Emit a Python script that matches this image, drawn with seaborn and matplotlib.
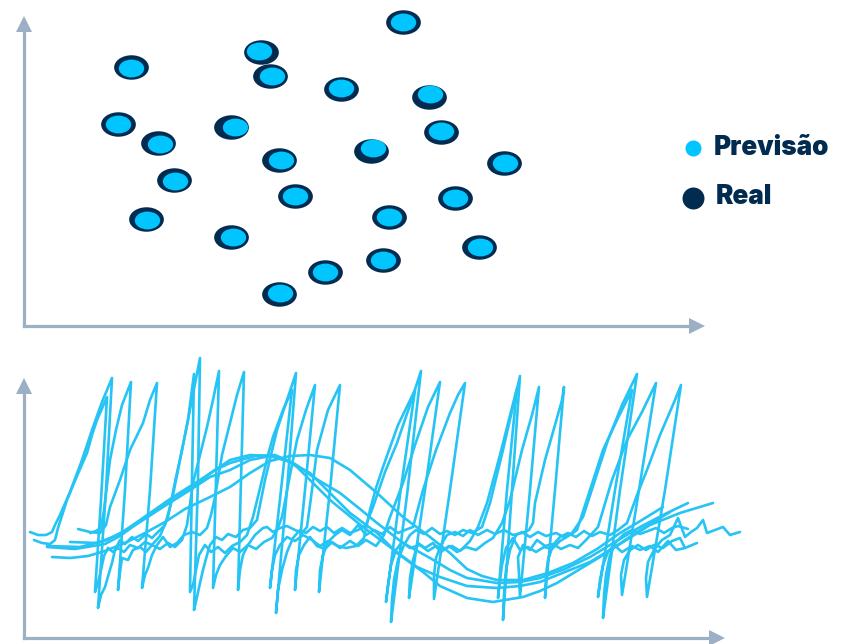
#!/usr/bin/env python3
"""
Forecast vs actual sketch: scatter on top, many overlapping forecasts below
"""

import matplotlib
matplotlib.use("Agg")
import matplotlib.pyplot as plt
from matplotlib.markers import MarkerStyle
from matplotlib.transforms import Affine2D
import numpy as np
import seaborn as sns

# Scatter values
real_x = [131, 261, 270, 118, 158, 174, 231, 279, 403, 341, 429, 441, 504, 371, 295, 455, 389, 146, 231, 479, 383, 325, 279]
real_y = [67, 52, 76, 124, 143, 180, 127, 160, 22, 89, 97, 132, 163, 151, 196, 198, 217, 219, 237, 247, 260, 272, 294]
pred_x = [131, 259, 272, 118, 160, 175, 235, 281, 403, 341, 430, 441, 505, 373, 295, 455, 389, 147, 233, 480, 383, 325, 280]
pred_y = [68, 51, 76, 124, 144, 181, 127, 160, 22, 88, 94, 131, 163, 148, 196, 198, 217, 220, 237, 247, 260, 272, 293]

# Smooth forecasts
smooth_a = [(52, 557), (70, 558), (88, 556), (105, 551), (125, 543), (145, 533), (165, 522), (185, 509), (210, 497),
            (230, 487), (250, 473), (270, 461), (290, 456), (310, 455), (330, 458), (350, 470), (377, 493), (403, 517),
            (430, 537), (450, 553), (467, 569), (482, 576), (497, 580), (523, 580), (548, 573), (573, 563), (597, 549),
            (620, 533), (642, 520), (663, 507)]
smooth_b = [(70, 542), (97, 543), (123, 533), (143, 520), (163, 507), (187, 492), (210, 477), (230, 470), (250, 460),
            (270, 456), (285, 459), (297, 467), (313, 483), (330, 500), (363, 527), (390, 547), (417, 567), (440, 577),
            (467, 586), (497, 588), (520, 586), (540, 582), (565, 572), (590, 562), (620, 544), (650, 525), (680, 513),
            (713, 503)]
smooth_c = [(47, 547), (75, 549), (105, 544), (120, 536), (135, 525), (150, 515), (165, 505), (195, 485), (215, 470),
            (230, 460), (250, 455), (270, 456), (290, 462), (310, 473), (330, 493), (350, 513), (377, 533), (397, 553),
            (423, 572), (440, 586), (467, 598), (493, 602), (523, 597), (540, 591), (557, 583), (600, 557), (640, 530),
            (670, 512)]
smooth_d = [(47, 546), (80, 547), (107, 540), (124, 531), (140, 520), (173, 497), (200, 480), (215, 470), (230, 463),
            (255, 456), (275, 455), (295, 464), (313, 477), (340, 493), (360, 509), (377, 523), (403, 543), (430, 558),
            (450, 570), (467, 578), (497, 583), (520, 582), (540, 578), (565, 569), (590, 557), (615, 542), (640, 527),
            (665, 514), (688, 503)]

# Sawtooth forecasts (x doubles back on each drop)
saw_a = [(34, 540), (42, 543), (50, 544), (55, 540), (58, 528), (67, 500), (77, 476), (87, 453), (92, 435), (97, 420),
         (107, 397), (101, 500), (95, 592), (98, 583), (101, 570), (104, 556), (108, 548), (113, 552), (118, 548),
         (124, 552), (130, 545), (138, 548), (145, 542), (152, 545), (160, 536), (168, 517), (175, 482), (182, 450),
         (188, 420), (194, 374), (192, 480), (190, 592), (193, 585), (196, 570), (199, 555), (205, 545), (211, 552),
         (218, 547), (225, 553), (232, 546), (240, 542), (247, 535), (253, 517), (262, 480), (268, 455), (273, 437),
         (283, 410), (292, 390), (281, 490), (270, 588), (272, 570), (275, 555), (280, 545), (287, 537), (295, 541),
         (303, 535), (312, 540), (320, 546), (328, 541), (338, 546), (346, 548), (356, 546), (364, 538), (370, 510),
         (376, 488), (383, 467), (398, 425), (415, 390), (400, 495), (386, 602), (388, 585), (391, 565), (396, 550),
         (402, 542), (410, 548), (420, 545), (428, 551), (436, 546), (444, 549), (452, 546), (460, 551), (470, 541),
         (478, 527), (487, 503), (500, 455), (517, 388), (507, 490), (498, 598), (500, 580), (502, 565), (506, 548),
         (513, 538), (520, 550), (528, 547), (536, 552), (544, 547), (552, 549), (560, 541), (570, 535), (577, 530),
         (590, 490), (603, 450), (618, 418), (632, 390), (615, 490), (598, 597), (600, 580), (603, 565), (608, 552),
         (614, 545), (622, 552), (632, 546), (640, 550), (650, 546), (658, 552), (668, 541), (676, 550), (685, 548)]
saw_b = [(30, 532), (38, 535), (46, 535), (52, 532), (55, 525), (60, 515), (70, 492), (82, 460), (92, 430), (102, 402),
         (112, 378), (106, 490), (98, 608), (101, 595), (105, 587), (109, 573), (112, 563), (115, 550), (120, 540),
         (125, 544), (132, 537), (138, 541), (146, 534), (152, 538), (158, 532), (165, 525), (172, 500), (178, 470),
         (187, 425), (200, 358), (198, 480), (194, 610), (197, 597), (200, 583), (203, 570), (207, 555), (210, 545),
         (216, 537), (222, 540), (228, 534), (236, 537), (243, 530), (250, 528), (257, 520), (265, 480), (277, 430),
         (287, 400), (296, 373), (287, 490), (276, 613), (278, 590), (282, 570), (287, 552), (293, 538), (300, 530),
         (306, 533), (313, 527), (320, 531), (327, 527), (334, 533), (342, 528), (350, 533), (358, 530), (366, 525),
         (373, 507), (385, 472), (397, 443), (410, 405), (421, 371), (407, 495), (391, 622), (392, 600), (394, 580),
         (398, 560), (404, 545), (410, 535), (416, 530), (424, 534), (432, 528), (440, 534), (447, 531), (455, 535),
         (463, 530), (472, 533), (482, 527), (490, 503), (503, 450), (520, 376), (512, 490), (503, 620), (504, 595),
         (506, 570), (510, 550), (516, 535), (522, 532), (530, 537), (538, 532), (546, 536), (556, 533), (564, 537),
         (572, 533), (583, 517), (595, 480), (608, 440), (622, 405), (637, 374), (620, 490), (603, 618), (604, 595),
         (606, 575), (610, 555), (616, 542), (624, 534), (632, 530), (640, 534), (648, 531), (656, 528), (664, 533),
         (672, 528), (678, 526), (688, 529)]
saw_c = [(90, 533), (96, 531), (101, 528), (104, 510), (110, 460), (116, 430), (122, 405), (131, 382), (125, 490),
         (118, 590), (120, 572), (122, 558), (128, 560), (133, 550), (140, 547), (146, 552), (152, 545), (160, 549),
         (168, 543), (175, 547), (182, 540), (187, 525), (193, 483), (200, 455), (207, 427), (213, 400), (219, 371),
         (216, 480), (213, 588), (216, 575), (220, 565), (226, 556), (233, 548), (240, 552), (248, 545), (256, 549),
         (264, 542), (272, 538), (277, 530), (282, 517), (290, 475), (297, 440), (306, 410), (315, 385), (305, 490),
         (295, 590), (296, 570), (299, 555), (304, 545), (310, 537), (317, 546), (325, 549), (332, 542), (340, 548),
         (350, 541), (358, 546), (366, 540), (376, 546), (384, 535), (390, 517), (403, 483), (415, 445), (428, 407),
         (440, 382), (425, 490), (409, 598), (410, 578), (413, 560), (418, 543), (425, 548), (433, 543), (441, 552),
         (449, 546), (457, 552), (466, 547), (476, 550), (485, 543), (493, 538), (502, 523), (510, 500), (522, 450),
         (532, 415), (539, 387), (530, 490), (520, 597), (519, 575), (518, 557), (523, 545), (530, 550), (537, 540),
         (545, 546), (553, 544), (561, 549), (570, 545), (578, 548), (586, 540), (598, 527), (612, 480), (627, 440),
         (642, 412), (656, 383), (639, 490), (622, 595), (621, 575), (624, 560), (630, 550), (638, 545), (646, 550),
         (654, 545), (663, 548), (672, 541), (680, 538), (685, 548), (697, 543)]
saw_d = [(78, 529), (90, 532), (100, 533), (106, 525), (110, 507), (120, 480), (130, 450), (143, 423), (150, 400),
         (157, 383), (150, 490), (142, 588), (145, 575), (148, 568), (152, 555), (157, 545), (163, 537), (170, 547),
         (177, 543), (184, 535), (192, 532), (200, 535), (207, 528), (211, 515), (215, 497), (222, 455), (230, 423),
         (237, 395), (244, 372), (241, 480), (238, 590), (240, 570), (243, 555), (248, 545), (255, 535), (263, 528),
         (267, 527), (273, 532), (280, 528), (287, 526), (295, 530), (302, 533), (307, 527), (312, 490), (317, 450),
         (328, 410), (340, 385), (330, 490), (319, 592), (320, 570), (323, 555), (328, 542), (335, 535), (342, 530),
         (350, 535), (358, 525), (366, 535), (374, 530), (382, 534), (390, 527), (398, 533), (405, 530), (413, 527),
         (423, 490), (436, 450), (450, 413), (458, 395), (465, 383), (450, 490), (434, 599), (434, 575), (436, 558),
         (441, 545), (447, 535), (455, 532), (463, 536), (470, 530), (478, 535), (487, 530), (495, 534), (504, 530),
         (513, 535), (522, 533), (529, 530), (533, 523), (535, 503), (545, 460), (555, 425), (562, 400), (564, 387),
         (555, 490), (545, 598), (546, 575), (548, 560), (553, 545), (560, 537), (568, 533), (576, 537), (584, 531),
         (592, 536), (600, 532), (610, 535), (618, 530), (627, 523), (637, 495), (647, 470), (660, 435), (675, 400),
         (681, 385), (665, 490), (647, 597), (646, 578), (648, 562), (655, 548), (662, 540), (670, 535), (678, 518),
         (685, 537), (691, 532), (697, 528), (703, 520), (707, 533), (715, 530), (723, 527), (730, 535), (740, 532)]

legend_labels = ["Previsão", "Real"]

# Colours
PRED_COLOR = "#00C5FF"
REAL_COLOR = "#012C50"
LINE_COLOR = "#25C4F4"
AXIS_COLOR = "#9BB0C5"
WIDTH, HEIGHT = 851, 644


def axes_box(left, right, top, bottom):
    """Axes rectangle from picture pixels"""
    return [left / WIDTH, 1 - bottom / HEIGHT, (right - left) / WIDTH, (bottom - top) / HEIGHT]


def style_axes(ax, left, right, top, bottom):
    """Keep left and bottom spines, with arrow heads on the ends"""
    ax.set_xlim(left, right)
    ax.set_ylim(bottom, top)
    ax.set_xticks([])
    ax.set_yticks([])
    ax.set_xlabel('')
    ax.set_ylabel('')
    ax.patch.set_alpha(0)
    sns.despine(ax=ax)
    for name in ['left', 'bottom']:
        ax.spines[name].set_color(AXIS_COLOR)
        ax.spines[name].set_linewidth(2.3)
    ax.plot([0], [1], marker='^', ms=11, color=AXIS_COLOR, mew=0, transform=ax.transAxes, clip_on=False)
    ax.plot([1], [0], marker='>', ms=11, color=AXIS_COLOR, mew=0, transform=ax.transAxes, clip_on=False)


def draw_series(ax, points):
    """One forecast, in drawing order"""
    xs, ys = np.array(points).T
    sns.lineplot(x=xs, y=ys, sort=False, estimator=None, color=LINE_COLOR, linewidth=1.9,
                 clip_on=False, ax=ax, legend=False)


def main():
    sns.set_theme(style='white')
    plt.rcParams['font.family'] = ['Inter', 'DejaVu Sans']

    fig = plt.figure(figsize=(WIDTH / 100, HEIGHT / 100), dpi=100)
    ax_top = fig.add_axes(axes_box(24, 697, 24, 326))
    ax_bottom = fig.add_axes(axes_box(24, 717, 386, 638))

    ellipse = MarkerStyle('o', transform=Affine2D().scale(1.42, 1))
    sns.scatterplot(x=real_x, y=real_y, s=310, marker=ellipse, color=REAL_COLOR, linewidth=0,
                    clip_on=False, ax=ax_top, legend=False)
    sns.scatterplot(x=pred_x, y=pred_y, s=165, marker=ellipse, color=PRED_COLOR, linewidth=0,
                    clip_on=False, ax=ax_top, legend=False)

    # Legend, placed by hand
    sns.scatterplot(x=[693], y=[148], s=133, color=PRED_COLOR, linewidth=0, clip_on=False, ax=ax_top, legend=False)
    sns.scatterplot(x=[693], y=[198], s=250, color=REAL_COLOR, linewidth=0, clip_on=False, ax=ax_top, legend=False)
    ax_top.text(714, 148, legend_labels[0], fontsize=18.8, fontweight='black', color=REAL_COLOR, va='center')
    ax_top.text(716, 197, legend_labels[1], fontsize=18.8, fontweight='black', color=REAL_COLOR, va='center')
    style_axes(ax_top, 24, 697, 24, 326)

    for series in [smooth_a, smooth_b, smooth_c, smooth_d, saw_a, saw_b, saw_c, saw_d]:
        draw_series(ax_bottom, series)
    style_axes(ax_bottom, 24, 717, 386, 638)

    fig.savefig('out.png', dpi=100)
    plt.close(fig)


if __name__ == "__main__":
    main()
